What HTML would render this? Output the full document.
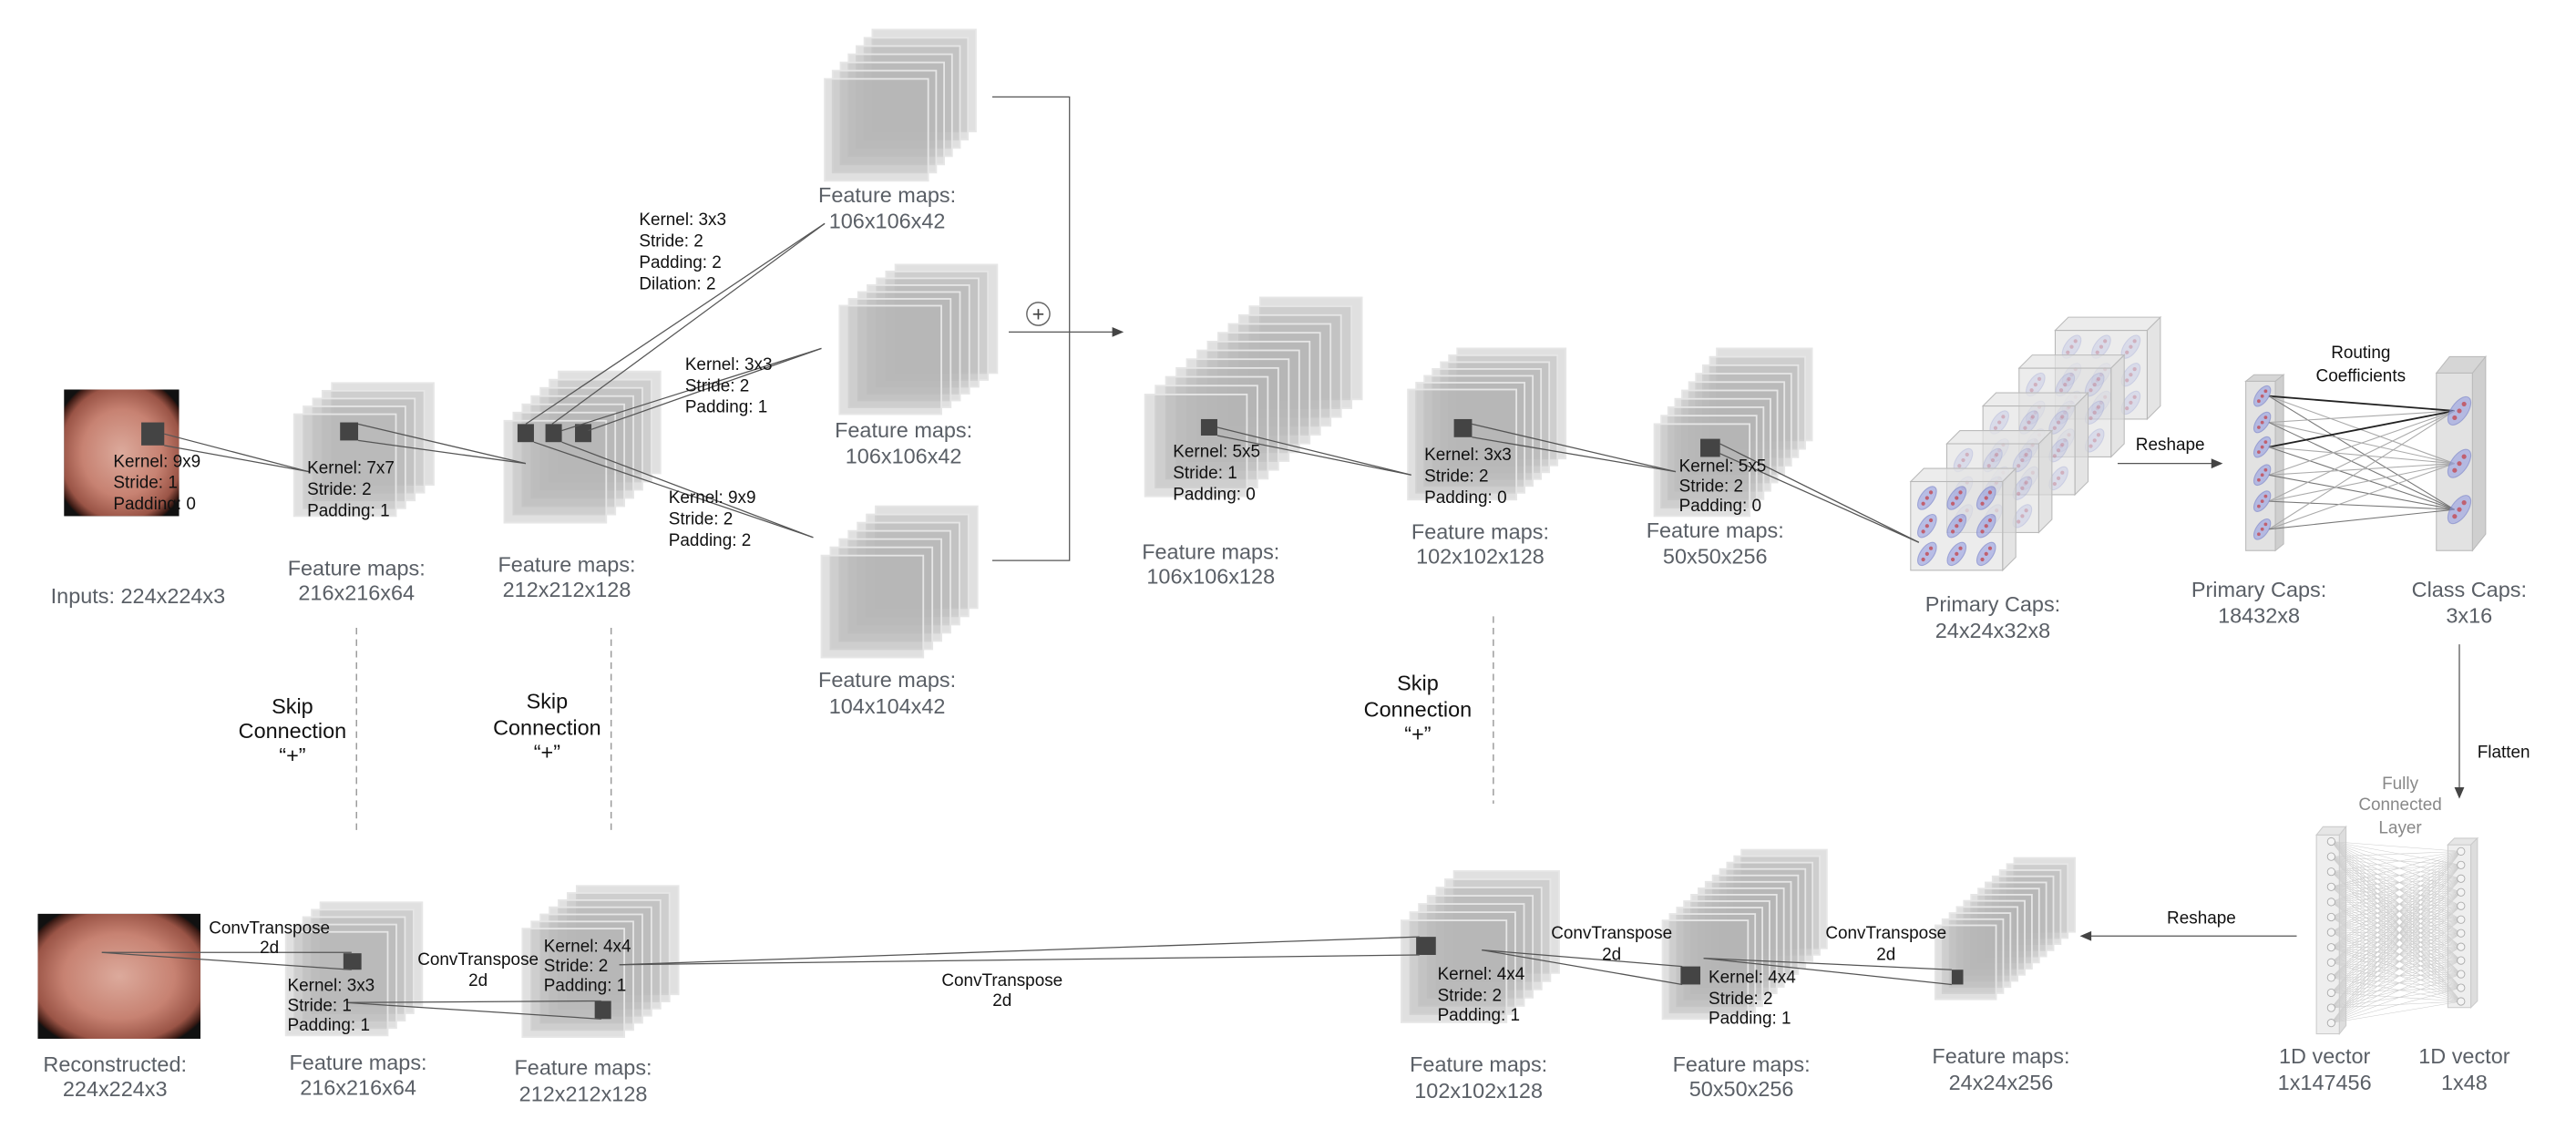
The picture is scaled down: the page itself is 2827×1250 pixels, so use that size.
<!DOCTYPE html>
<html><head><meta charset="utf-8"><style>
html,body{margin:0;padding:0;background:#fff;}
svg{display:block;}
text{font-family:"Liberation Sans",sans-serif;}
.lb{fill:#5a5f66;font-size:13px;text-anchor:middle;}
.k{fill:#111;font-size:10.5px;}
.kc{fill:#111;font-size:10.5px;text-anchor:middle;}
.sk{fill:#111;font-size:13px;text-anchor:middle;}
</style></head><body>
<svg id="s" width="2827" height="1250" viewBox="0 0 1568 693" preserveAspectRatio="none" xmlns="http://www.w3.org/2000/svg">
<defs>
<radialGradient id="g1" cx="0.5" cy="0.5" r="0.62">
<stop offset="0" stop-color="#dcaa9c"/><stop offset="0.55" stop-color="#c78272"/><stop offset="0.85" stop-color="#9a5446"/><stop offset="0.97" stop-color="#3a1a14"/><stop offset="1" stop-color="#111"/>
</radialGradient>
<clipPath id="c1"><rect x="39" y="237" width="70" height="77"/></clipPath>
<clipPath id="c2"><rect x="23" y="556" width="99" height="76"/></clipPath>
</defs>
<g id="stacks"></g>
<!-- input image -->
<rect x="39" y="237" width="70" height="77" fill="#111"/>
<rect x="39" y="237" width="70" height="77" fill="url(#g1)" clip-path="url(#c1)"/>
<rect x="86" y="257" width="14" height="14" fill="#444"/>
<!-- recon image -->
<rect x="23" y="556" width="99" height="76" fill="#111"/>
<rect x="23" y="556" width="99" height="76" fill="url(#g1)" clip-path="url(#c2)"/>
<g id="fg"></g>
<!-- connector lines top -->
<g stroke="#555" stroke-width="0.7" fill="none">
<line x1="100" y1="264" x2="188" y2="287"/><line x1="100" y1="271" x2="188" y2="287"/>
<line x1="218" y1="258" x2="320" y2="282"/><line x1="218" y1="268" x2="320" y2="282"/>
<line x1="320" y1="258" x2="502" y2="136"/><line x1="336" y1="258" x2="502" y2="136"/>
<line x1="342" y1="262" x2="500" y2="212"/><line x1="358" y1="262" x2="500" y2="212"/>
<line x1="325" y1="269" x2="495" y2="327"/><line x1="342" y1="269" x2="495" y2="327"/>
<line x1="741" y1="260" x2="859" y2="289"/><line x1="741" y1="265" x2="859" y2="289"/>
<line x1="896" y1="258" x2="1020" y2="287"/><line x1="896" y1="266" x2="1020" y2="287"/>
<line x1="1047" y1="270" x2="1168" y2="330"/><line x1="1047" y1="276" x2="1168" y2="330"/>
<polyline points="604,59 651,59 651,341 604,341"/>
<line x1="614" y1="202" x2="678" y2="202"/>
<line x1="1289" y1="282" x2="1348" y2="282"/>
<line x1="1497" y1="392" x2="1497" y2="481"/>
<line x1="1398" y1="569.5" x2="1272" y2="569.5"/>
<line x1="62" y1="579.5" x2="214" y2="579.5"/><line x1="62" y1="579.5" x2="214" y2="590"/>
<line x1="211" y1="610" x2="366" y2="609"/><line x1="211" y1="610" x2="366" y2="620"/>
<line x1="377" y1="587" x2="864" y2="570"/><line x1="377" y1="587" x2="864" y2="581"/>
<line x1="902" y1="578" x2="1024" y2="588"/><line x1="902" y1="578" x2="1024" y2="599"/>
<line x1="1037" y1="583" x2="1188" y2="590"/><line x1="1037" y1="583" x2="1188" y2="599"/>
</g>
<circle cx="632" cy="191" r="7" fill="#fff" stroke="#666" stroke-width="0.8"/>
<text x="632" y="195.5" font-size="13" text-anchor="middle" fill="#444">+</text>
<polygon points="684,202 677,199 677,205" fill="#444"/>
<polygon points="1353,282 1346,279 1346,285" fill="#444"/>
<polygon points="1497,486 1494,479 1500,479" fill="#444"/>
<polygon points="1266,569.5 1273,566.5 1273,572.5" fill="#444"/>
<g stroke="#999" stroke-width="0.8" stroke-dasharray="4,3">
<line x1="217" y1="382" x2="217" y2="507"/><line x1="372" y1="382" x2="372" y2="507"/><line x1="909" y1="375" x2="909" y2="489"/>
</g>
<text class="k" x="69" y="284">Kernel: 9x9</text><text class="k" x="69" y="297">Stride: 1</text><text class="k" x="69" y="310">Padding: 0</text>
<text class="lb" x="84" y="367">Inputs: 224x224x3</text>
<text class="k" x="187" y="288">Kernel: 7x7</text><text class="k" x="187" y="301">Stride: 2</text><text class="k" x="187" y="314">Padding: 1</text>
<text class="lb" x="217" y="350">Feature maps:</text><text class="lb" x="217" y="365">216x216x64</text>
<text class="lb" x="345" y="348">Feature maps:</text><text class="lb" x="345" y="363">212x212x128</text>
<text class="k" x="389" y="137">Kernel: 3x3</text><text class="k" x="389" y="150">Stride: 2</text><text class="k" x="389" y="163">Padding: 2</text><text class="k" x="389" y="176">Dilation: 2</text>
<text class="k" x="417" y="225">Kernel: 3x3</text><text class="k" x="417" y="238">Stride: 2</text><text class="k" x="417" y="251">Padding: 1</text>
<text class="k" x="407" y="306">Kernel: 9x9</text><text class="k" x="407" y="319">Stride: 2</text><text class="k" x="407" y="332">Padding: 2</text>
<text class="lb" x="540" y="123">Feature maps:</text><text class="lb" x="540" y="139">106x106x42</text>
<text class="lb" x="550" y="266">Feature maps:</text><text class="lb" x="550" y="282">106x106x42</text>
<text class="lb" x="540" y="418">Feature maps:</text><text class="lb" x="540" y="434">104x104x42</text>
<text class="k" x="714" y="278">Kernel: 5x5</text><text class="k" x="714" y="291">Stride: 1</text><text class="k" x="714" y="304">Padding: 0</text>
<text class="lb" x="737" y="340">Feature maps:</text><text class="lb" x="737" y="355">106x106x128</text>
<text class="k" x="867" y="280">Kernel: 3x3</text><text class="k" x="867" y="293">Stride: 2</text><text class="k" x="867" y="306">Padding: 0</text>
<text class="lb" x="901" y="328">Feature maps:</text><text class="lb" x="901" y="343">102x102x128</text>
<text class="k" x="1022" y="287" font-size="9.5">Kernel: 5x5</text><text class="k" x="1022" y="299" font-size="9.5">Stride: 2</text><text class="k" x="1022" y="311" font-size="9.5">Padding: 0</text>
<text class="lb" x="1044" y="327">Feature maps:</text><text class="lb" x="1044" y="343">50x50x256</text>
<text class="lb" x="1213" y="372">Primary Caps:</text><text class="lb" x="1213" y="388">24x24x32x8</text>
<text class="kc" x="1321" y="274">Reshape</text>
<text class="kc" x="1437" y="218">Routing</text><text class="kc" x="1437" y="232">Coefficients</text>
<text class="lb" x="1375" y="363">Primary Caps:</text><text class="lb" x="1375" y="379">18432x8</text>
<text class="lb" x="1503" y="363">Class Caps:</text><text class="lb" x="1503" y="379">3x16</text>
<text class="kc" x="1524" y="461">Flatten</text>
<text class="sk" x="178" y="434">Skip</text><text class="sk" x="178" y="449">Connection</text><text class="sk" x="178" y="464">“+”</text>
<text class="sk" x="333" y="431">Skip</text><text class="sk" x="333" y="447">Connection</text><text class="sk" x="333" y="462">“+”</text>
<text class="sk" x="863" y="420">Skip</text><text class="sk" x="863" y="436">Connection</text><text class="sk" x="863" y="451">“+”</text>
<text class="lb" x="70" y="652">Reconstructed:</text><text class="lb" x="70" y="667">224x224x3</text>
<text class="kc" x="164" y="568">ConvTranspose</text><text class="kc" x="164" y="580">2d</text>
<text class="k" x="175" y="603">Kernel: 3x3</text><text class="k" x="175" y="615">Stride: 1</text><text class="k" x="175" y="627">Padding: 1</text>
<text class="lb" x="218" y="651">Feature maps:</text><text class="lb" x="218" y="666">216x216x64</text>
<text class="kc" x="291" y="587">ConvTranspose</text><text class="kc" x="291" y="600">2d</text>
<text class="k" x="331" y="579">Kernel: 4x4</text><text class="k" x="331" y="591">Stride: 2</text><text class="k" x="331" y="603">Padding: 1</text>
<text class="lb" x="355" y="654">Feature maps:</text><text class="lb" x="355" y="670">212x212x128</text>
<text class="kc" x="610" y="600">ConvTranspose</text><text class="kc" x="610" y="612">2d</text>
<text class="k" x="875" y="596">Kernel: 4x4</text><text class="k" x="875" y="609">Stride: 2</text><text class="k" x="875" y="621">Padding: 1</text>
<text class="lb" x="900" y="652">Feature maps:</text><text class="lb" x="900" y="668">102x102x128</text>
<text class="kc" x="981" y="571">ConvTranspose</text><text class="kc" x="981" y="584">2d</text>
<text class="k" x="1040" y="598">Kernel: 4x4</text><text class="k" x="1040" y="611">Stride: 2</text><text class="k" x="1040" y="623">Padding: 1</text>
<text class="lb" x="1060" y="652">Feature maps:</text><text class="lb" x="1060" y="667">50x50x256</text>
<text class="kc" x="1148" y="571">ConvTranspose</text><text class="kc" x="1148" y="584">2d</text>
<text class="lb" x="1218" y="647">Feature maps:</text><text class="lb" x="1218" y="663">24x24x256</text>
<text class="kc" x="1340" y="562">Reshape</text>
<text x="1461" y="480" font-size="10.5" fill="#888" text-anchor="middle">Fully</text>
<text x="1461" y="493" font-size="10.5" fill="#888" text-anchor="middle">Connected</text>
<text x="1461" y="507" font-size="10.5" fill="#888" text-anchor="middle">Layer</text>
<text class="lb" x="1415" y="647">1D vector</text><text class="lb" x="1415" y="663">1x147456</text>
<text class="lb" x="1500" y="647">1D vector</text><text class="lb" x="1500" y="663">1x48</text>
</svg>
<script>
var NS="http://www.w3.org/2000/svg";
var st=document.getElementById('stacks'), fg=document.getElementById('fg');
function el(p,tag,a){var e=document.createElementNS(NS,tag);for(var k in a)e.setAttribute(k,a[k]);p.appendChild(e);return e;}
function stack(fx,fy,w,h,bx,by,n){
 for(var i=n-1;i>=0;i--){var t=i/(n-1);
  el(st,'rect',{x:fx+(bx-fx)*t,y:fy+(by-fy)*t,width:w,height:h,fill:'#b4b4b4','fill-opacity':0.42,stroke:'#e6e6e6','stroke-width':1});}
}
stack(179,252,62,62,202,233,5);
stack(307,256,62,62,340,226,7);
stack(502,48,63,62,531,18,7);
stack(511,186,62,66,545,161,7);
stack(500,338,62,62,533,308,7);
stack(697,240,62,62,767,181,12);
stack(857,237,66,67,887,212,7);
stack(1007,258,58,56,1045,212,10);
stack(174,567,62,63,195,549,5);
stack(318,565,62,66,351,539,7);
stack(853,560,64,62,885,530,7);
stack(1012,560,52,60,1060,517,12);
stack(1178,563,37,45,1226,522,12);
[[207,257,11,11],[315,258,10,11],[332,258,10,11],[350,258,10,11],[731,255,10,10],[885,255,11,11],[1035,267,12,11],
 [209,580,11,10],[362,609,10,11],[862,570,12,11],[1023,588,12,11],[1188,590,7,9]].forEach(function(r){
 el(fg,'rect',{x:r[0],y:r[1],width:r[2],height:r[3],fill:'#444'});});
function caps(g,cx,cy,s,op){
 el(g,'ellipse',{cx:cx,cy:cy,rx:4.5*s,ry:9*s,transform:'rotate(35 '+cx+' '+cy+')',fill:'#8e98e0','fill-opacity':0.55*op,stroke:'#7a84c8','stroke-opacity':0.6*op,'stroke-width':0.6});
 for(var j=-1;j<=1;j++){el(g,'circle',{cx:cx+j*2.6*s,cy:cy-j*3.8*s,r:1.3*s,fill:'#c06070','fill-opacity':op});}
}
for(var i=4;i>=0;i--){var t=i/4, x=1163+(1251-1163)*t, y=293+(201-293)*t, w=56, h=54, d=8;
 var op = i==0?1:0.35;
 el(fg,'polygon',{points:x+','+y+' '+(x+d)+','+(y-d)+' '+(x+w+d)+','+(y-d)+' '+(x+w)+','+y,fill:'#e4e4e4','fill-opacity':0.7,stroke:'#bbb','stroke-width':0.6});
 el(fg,'polygon',{points:(x+w)+','+y+' '+(x+w+d)+','+(y-d)+' '+(x+w+d)+','+(y+h-d)+' '+(x+w)+','+(y+h),fill:'#d8d8d8','fill-opacity':0.7,stroke:'#bbb','stroke-width':0.6});
 el(fg,'rect',{x:x,y:y,width:w,height:h,fill:'#e0e0e0','fill-opacity':0.6,stroke:'#b8b8b8','stroke-width':0.6});
 for(var r=0;r<3;r++)for(var c=0;c<3;c++)caps(fg,x+10+c*18,y+10+r*17,0.9,op);
}
var pc=[241,257,272,289,305,322], cc=[250,282,310];
el(fg,'rect',{x:1367,y:232,width:18,height:103,fill:'#e2e2e2',stroke:'#bbb','stroke-width':0.6});
el(fg,'polygon',{points:'1367,232 1372,228 1390,228 1385,232',fill:'#d6d6d6',stroke:'#bbb','stroke-width':0.6});
el(fg,'polygon',{points:'1385,232 1390,228 1390,331 1385,335',fill:'#cfcfcf',stroke:'#bbb','stroke-width':0.6});
el(fg,'rect',{x:1483,y:227,width:22,height:108,fill:'#e2e2e2',stroke:'#bbb','stroke-width':0.6});
el(fg,'polygon',{points:'1483,227 1491,217 1513,217 1505,227',fill:'#d6d6d6',stroke:'#bbb','stroke-width':0.6});
el(fg,'polygon',{points:'1505,227 1513,217 1513,325 1505,335',fill:'#cfcfcf',stroke:'#bbb','stroke-width':0.6});
pc.forEach(function(a,i){cc.forEach(function(b,j){
 var dark=(i==0&&j==0)||(i==2&&j==0);
 el(fg,'line',{x1:1381,y1:a,x2:1494,y2:b,stroke:dark?'#222':(j==2?'#777':'#aaa'),'stroke-width':dark?1:0.6});});});
pc.forEach(function(a){caps(fg,1377,a,0.8,1);});
cc.forEach(function(b){caps(fg,1497,b,1.1,1);});
el(fg,'rect',{x:1410,y:508,width:14,height:121,fill:'#eee',stroke:'#ccc','stroke-width':0.6});
el(fg,'polygon',{points:'1410,508 1414,503 1428,503 1424,508',fill:'#e6e6e6',stroke:'#ccc','stroke-width':0.6});
el(fg,'polygon',{points:'1424,508 1428,503 1428,624 1424,629',fill:'#ddd',stroke:'#ccc','stroke-width':0.6});
el(fg,'rect',{x:1490,y:514,width:14,height:99,fill:'#eee',stroke:'#ccc','stroke-width':0.6});
el(fg,'polygon',{points:'1490,514 1494,510 1508,510 1504,514',fill:'#e6e6e6',stroke:'#ccc','stroke-width':0.6});
el(fg,'polygon',{points:'1504,514 1508,510 1508,609 1504,613',fill:'#ddd',stroke:'#ccc','stroke-width':0.6});
var L=[],R=[];for(var i=0;i<13;i++)L.push(512+i*9.2);for(var i=0;i<12;i++)R.push(518+i*8.3);
L.forEach(function(a){R.forEach(function(b){el(fg,'line',{x1:1419,y1:a,x2:1498,y2:b,stroke:'#ccc','stroke-width':0.3});});});
L.forEach(function(a){el(fg,'circle',{cx:1419,cy:a,r:2.3,fill:'#f4f4f4',stroke:'#aaa','stroke-width':0.5});});
R.forEach(function(b){el(fg,'circle',{cx:1498,cy:b,r:2.3,fill:'#f4f4f4',stroke:'#aaa','stroke-width':0.5});});
</script>
</body></html>
